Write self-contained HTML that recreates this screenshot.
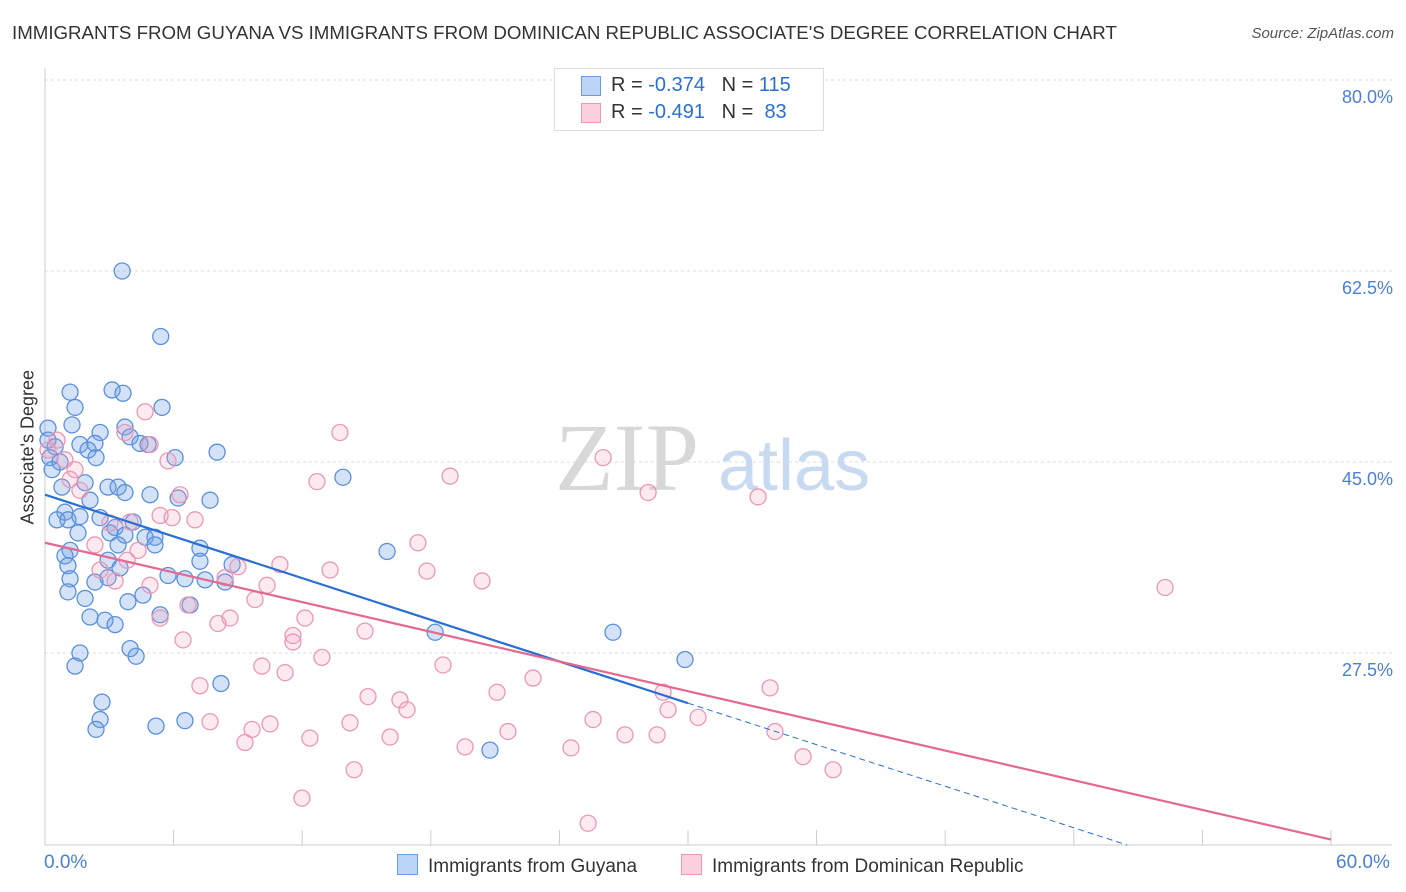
<!DOCTYPE html>
<html><head><meta charset="utf-8"><style>
body{margin:0;background:#fff;font-family:"Liberation Sans",sans-serif;}
#wrap{position:relative;width:1406px;height:892px;overflow:hidden;}
.t{position:absolute;white-space:nowrap;}
</style></head><body>
<div id="wrap">
<div class="t" style="left:12px;top:22px;font-size:18.7px;color:#333;">IMMIGRANTS FROM GUYANA VS IMMIGRANTS FROM DOMINICAN REPUBLIC ASSOCIATE'S DEGREE CORRELATION CHART</div>
<div class="t" style="right:12px;top:25px;font-size:15px;color:#555;font-style:italic;">Source: ZipAtlas.com</div>
<svg id="svg" width="1406" height="892" style="position:absolute;left:0;top:0"></svg>
</div>
<script>
const yTicks=[80,62.5,45,27.5];
const yTickLabels=["80.0%","62.5%","45.0%","27.5%"];
const xTicks=[0,6,12,18,24,30,36,42,48,54,60];
const blueX=[3.6,5.4,1.17,3.13,3.64,1.4,5.46,0.14,1.26,3.73,2.57,3.97,1.63,2.33,4.43,4.81,2.01,8.03,6.07,2.38,0.14,0.47,0.23,0.7,0.33,13.9,0.79,1.87,2.94,3.41,4.9,3.73,2.1,6.21,7.7,0.93,1.63,2.57,0.56,1.07,4.11,3.27,3.03,3.73,4.67,5.13,1.54,5.13,7.23,15.96,1.17,3.41,0.93,2.94,7.23,1.07,3.5,8.73,5.74,1.17,2.33,6.53,7.47,8.4,2.94,1.07,1.87,3.87,4.57,6.77,5.37,2.1,2.8,3.27,3.97,18.2,26.5,4.25,1.63,1.4,29.86,8.21,2.66,2.57,6.53,5.18,2.38,20.76];
const blueY=[62.5,56.5,51.4,51.6,51.3,50,50,48.1,48.4,48.2,47.7,47.3,46.6,46.7,46.7,46.6,46.1,45.9,45.4,45.4,47,46.4,45.4,45,44.3,43.6,42.7,43.1,42.7,42.7,42,42.2,41.5,41.7,41.5,40.4,40,39.9,39.7,39.7,39.5,39,38.5,38.3,38.1,38.1,38.5,37.4,37.1,36.8,36.9,37.4,36.4,36,35.9,35.5,35.3,35.6,34.6,34.3,34,34.3,34.2,34,34.4,33.1,32.5,32.2,32.8,31.9,31,30.8,30.5,30.1,27.9,29.4,29.4,27.2,27.5,26.3,26.9,24.7,23,21.4,21.3,20.8,20.5,18.6];
const pinkX=[4.67,13.76,3.73,4.9,0.56,0.14,26.04,0.93,5.74,18.9,12.69,1.4,6.3,28.14,33.27,1.63,1.17,3.97,7,3.03,5.37,5.93,2.33,4.34,17.4,3.83,9,10.96,13.3,2.57,17.82,20.39,3.27,4.9,10.36,8.4,52.26,9.8,6.67,5.37,12.13,8.63,8.07,11.57,14.93,6.44,11.57,12.92,18.57,10.12,11.2,22.77,7.23,21.09,33.83,28.84,15.07,16.56,16.89,29.07,30.47,25.57,7.7,10.5,14.23,21.6,9.66,34.06,27.06,28.56,16.1,12.36,9.33,19.6,24.54,35.37,36.77,14.42,11.99,25.34];
const pinkY=[49.6,47.7,47.7,46.6,47,46.1,45.4,45.2,45.1,43.7,43.2,44.3,42,42.2,41.8,42.4,43.4,39.5,39.7,39.4,40.1,39.9,37.4,36.9,37.6,36,35.4,35.6,35.1,35.1,35,34.1,34.1,33.7,33.7,34.4,33.5,32.4,31.9,30.7,30.7,30.7,30.2,29.1,29.5,28.7,28.5,27.1,26.4,26.3,25.7,25.2,24.5,23.9,24.3,23.9,23.5,23.2,22.3,22.3,21.6,21.4,21.2,21,21.1,20.3,20.5,20.3,20,20,19.8,19.7,19.3,18.9,18.8,18,16.8,16.8,14.2,11.9];
const blueLine=[[0,42.0],[30,22.9],[50.5,9.9]];
const pinkLine=[[0,37.6],[60,10.4]];
const X=v=>45+v/60*1286, Y=v=>80+(80-v)*10.914;
const svg=document.getElementById('svg');const NS='http://www.w3.org/2000/svg';
function mk(t,a,p){const e=document.createElementNS(NS,t);for(const k in a)e.setAttribute(k,a[k]);(p||svg).appendChild(e);return e;}
yTicks.forEach((v,i)=>{const l=mk('line',{x1:45,x2:1392,y1:Y(v),y2:Y(v),stroke:'#ddd','stroke-dasharray':'3,3'});


const t=mk('text',{x:1393,y:Y(v)+23,'text-anchor':'end','font-size':18,fill:'#4a7fd6','font-family':'Liberation Sans'});t.textContent=yTickLabels[i];

});
const ax=mk('line',{x1:45,x2:45,y1:68,y2:845,stroke:'#ccc'});
const bx=mk('line',{x1:45,x2:1392,y1:845,y2:845,stroke:'#ccc'});
xTicks.forEach(v=>{const l=mk('line',{x1:X(v),x2:X(v),y1:830,y2:845,stroke:'#ccc'});

});
const wm=mk('text',{x:555,y:490,'font-size':96,fill:'#d8d8d8','font-family':'Liberation Serif'});wm.textContent='ZIP';

const wm2=mk('text',{x:718,y:490,'font-size':72,fill:'#c8daf2','font-family':'Liberation Sans'});wm2.textContent='atlas';

blueX.forEach((v,i)=>{const c=mk('circle',{cx:X(v),cy:Y(blueY[i]),r:8,fill:'rgba(110,160,230,0.3)',stroke:'#5b90dc','stroke-width':1.3});

});
pinkX.forEach((v,i)=>{const c=mk('circle',{cx:X(v),cy:Y(pinkY[i]),r:8,fill:'rgba(245,160,190,0.22)',stroke:'#eb97b6','stroke-width':1.3});

});
const b1=mk('line',{x1:X(blueLine[0][0]),y1:Y(blueLine[0][1]),x2:X(blueLine[1][0]),y2:Y(blueLine[1][1]),stroke:'#2a6fd4','stroke-width':2.2});

const b2=mk('line',{x1:X(blueLine[1][0]),y1:Y(blueLine[1][1]),x2:X(blueLine[2][0]),y2:Y(blueLine[2][1]),stroke:'#2a6fd4','stroke-width':1,'stroke-dasharray':'6,4'});

const p1=mk('line',{x1:X(pinkLine[0][0]),y1:Y(pinkLine[0][1]),x2:X(pinkLine[1][0]),y2:Y(pinkLine[1][1]),stroke:'#e5688f','stroke-width':2.2});

</script>
<div class="t" style="left:-42px;top:444px;transform:rotate(-90deg);font-size:18px;color:#333;width:140px;text-align:center;">Associate's Degree</div>
<div class="t" style="left:44px;top:852px;font-size:19px;color:#4a7fd6;">0.0%</div>
<div class="t" style="left:1336px;top:852px;font-size:19px;color:#4a7fd6;">60.0%</div>
<div style="position:absolute;left:554px;top:68px;width:268px;height:61px;border:1px solid #ddd;background:#fff;font-size:20px;color:#333;">
 <div style="position:absolute;left:26px;top:7px;width:18px;height:18px;background:#bcd4f5;border:1px solid #6a9de0;"></div>
 <div class="t" style="left:56px;top:5px;">R = <span style="color:#2a6fd4">-0.374</span>&nbsp;&nbsp;&nbsp;N = <span style="color:#2a6fd4">115</span></div>
 <div style="position:absolute;left:26px;top:34px;width:18px;height:18px;background:#fbd0de;border:1px solid #eb97b6;"></div>
 <div class="t" style="left:56px;top:32px;">R = <span style="color:#2a6fd4">-0.491</span>&nbsp;&nbsp;&nbsp;N = &nbsp;<span style="color:#2a6fd4">83</span></div>
</div>
<div style="position:absolute;left:397px;top:854px;font-size:19px;color:#333;">
 <span style="display:inline-block;width:19px;height:19px;background:#bcd4f5;border:1px solid #6a9de0;vertical-align:-3px;margin-right:10px;"></span>Immigrants from Guyana</div>
<div style="position:absolute;left:681px;top:854px;font-size:19px;color:#333;">
 <span style="display:inline-block;width:19px;height:19px;background:#fbd0de;border:1px solid #eb97b6;vertical-align:-3px;margin-right:10px;"></span>Immigrants from Dominican Republic</div>
</body></html>
